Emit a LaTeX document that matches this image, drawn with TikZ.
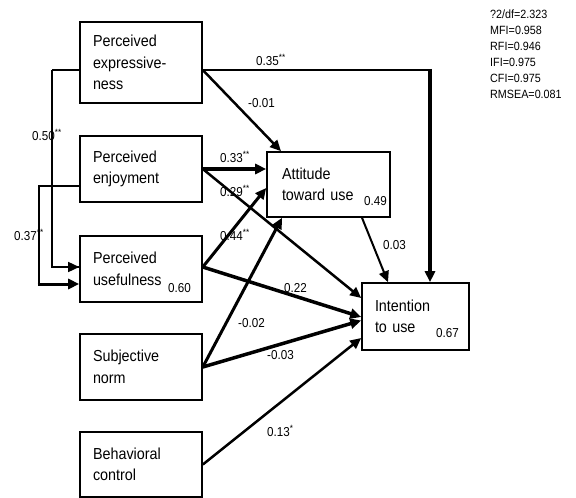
\documentclass[tikz,border=0pt]{standalone}
\usepackage{fontspec}
\setmainfont{Liberation Sans}[FakeStretch=0.9]
\usetikzlibrary{arrows.meta,calc}
\begin{document}
\begin{tikzpicture}[x=1bp,y=-1bp,
  box/.style={draw,line width=1.6bp,rectangle,align=left,inner ysep=0pt,
    font=\fontsize{16}{21.5}\selectfont},
  lab/.style={inner sep=0pt,anchor=west,font=\fontsize{13}{15}\selectfont},
  stat/.style={inner sep=0pt,anchor=west,font=\fontsize{12}{14}\selectfont},
  tip/.style={-{Triangle[length=11bp,width=10bp]}},
  path/.style={line join=miter}]
\useasboundingbox (0,0) rectangle (576,498);

% boxes
\node[box,minimum width=122bp,minimum height=81bp,text width=96bp,inner xsep=13bp] (pe) at (141,62.5) {Perceived\\expressive-\\ness};
\node[box,minimum width=122bp,minimum height=66bp,text width=96bp,inner xsep=13bp] (en) at (141,169) {Perceived\\enjoyment};
\node[box,minimum width=122bp,minimum height=66bp,text width=96bp,inner xsep=13bp] (us) at (141,269) {Perceived\\usefulness};
\node[box,minimum width=122bp,minimum height=66bp,text width=96bp,inner xsep=13bp] (sn) at (141,367) {Subjective\\norm};
\node[box,minimum width=122bp,minimum height=65bp,text width=96bp,inner xsep=13bp] (bc) at (141,464.5) {Behavioral\\control};
\node[box,minimum width=123bp,minimum height=65bp,text width=93bp,inner xsep=15bp] (at) at (328.5,184.5) {Attitude\\toward use};
\node[box,minimum width=107bp,minimum height=67bp,text width=81bp,inner xsep=13bp] (it) at (415.5,316.5) {Intention\\to use};

% R2 values
\node[lab] (r2at) at (364,201) {0.49};
\node[lab] (r2us) at (168,288) {0.60};
\node[lab] (r2it) at (436,333) {0.67};

% anchor points
\coordinate (peE) at ($(pe.east)+(0,7.5)$);
\coordinate (peW) at ($(pe.west)+(0,7.5)$);
\coordinate (enE) at (en.east);
\coordinate (enW) at ($(en.west)+(0,17)$);
\coordinate (usE) at ($(us.east)+(0,-2)$);
\coordinate (usW1) at ($(us.west)+(0,-2)$);
\coordinate (usW2) at ($(us.west)+(0,15)$);
\coordinate (snE) at (sn.east);
\coordinate (bcE) at (bc.east);
\coordinate (corner35) at ($(it.north)+(14.5,0)$);

% correlations
\draw[line width=1.5bp] (peW) -- ++(-27,0) coordinate (c50);
\draw[line width=1.5bp] (c50) |- (usW1);
\draw[line width=1.5bp,tip] ($(usW1)+(-28,0)$) -- (usW1);
\draw[line width=1.5bp] (enW) -- ++(-40,0) coordinate (c37) -- ($(usW2)+(-40,0)$);
\draw[line width=3bp,tip] ($(usW2)+(-41.5,0)$) -- (usW2);

% paths
\draw[line width=2bp] (peE) -- (peE -| corner35) coordinate (k35);
\draw[line width=3.5bp,tip] ($(k35)+(0,-1)$) -- (corner35);
\draw[line width=2.5bp,tip] (peE) -- ($(at.north)+(-47.5,0)$);
\draw[line width=4bp,tip] (enE) -- ($(at.west)+(0,-15.5)$);
\draw[line width=2.5bp,tip] (enE) -- ($(it.west)+(0,-18.5)$);
\draw[line width=3bp,tip] (usE) -- ($(at.west)+(0,3.5)$);
\draw[line width=3.5bp,tip] (usE) -- ($(it.west)+(0,0.5)$);
\draw[line width=3bp,tip] (snE) -- ($(at.south)+(-46.5,0)$);
\draw[line width=3.5bp,tip] (snE) -- ($(it.west)+(0,4)$);
\draw[line width=2.5bp,tip] (bcE) -- ($(it.west)+(0,21.5)$);
\draw[line width=2bp,tip] ($(at.south)+(33.5,0)$) -- ($(it.north)+(-27.5,0)$);

% path labels
\node[lab] (l50) at (32,135) {0.50\textsuperscript{**}};
\node[lab] (l37) at (14,235) {0.37\textsuperscript{**}};
\node[lab] (l35) at (256,60) {0.35\textsuperscript{**}};
\node[lab] (l01) at (248,103) {-0.01};
\node[lab] (l33) at (220,157) {0.33\textsuperscript{**}};
\node[lab] (l29) at (220,191) {0.29\textsuperscript{**}};
\node[lab] (l44) at (220,235) {0.44\textsuperscript{**}};
\node[lab] (l22) at (284,288) {0.22};
\node[lab] (l02) at (238,323) {-0.02};
\node[lab] (l03n) at (267,355) {-0.03};
\node[lab] (l13) at (267,431) {0.13\textsuperscript{*}};
\node[lab] (l03) at (383,245) {0.03};

% fit statistics
\node[stat] (s1) at (490,14) {?2/df=2.323};
\node[stat] (s2) at (490,30) {MFI=0.958};
\node[stat] (s3) at (490,46) {RFI=0.946};
\node[stat] (s4) at (490,62) {IFI=0.975};
\node[stat] (s5) at (490,78) {CFI=0.975};
\node[stat] (s6) at (490,94) {RMSEA=0.081};
\end{tikzpicture}
\end{document}
